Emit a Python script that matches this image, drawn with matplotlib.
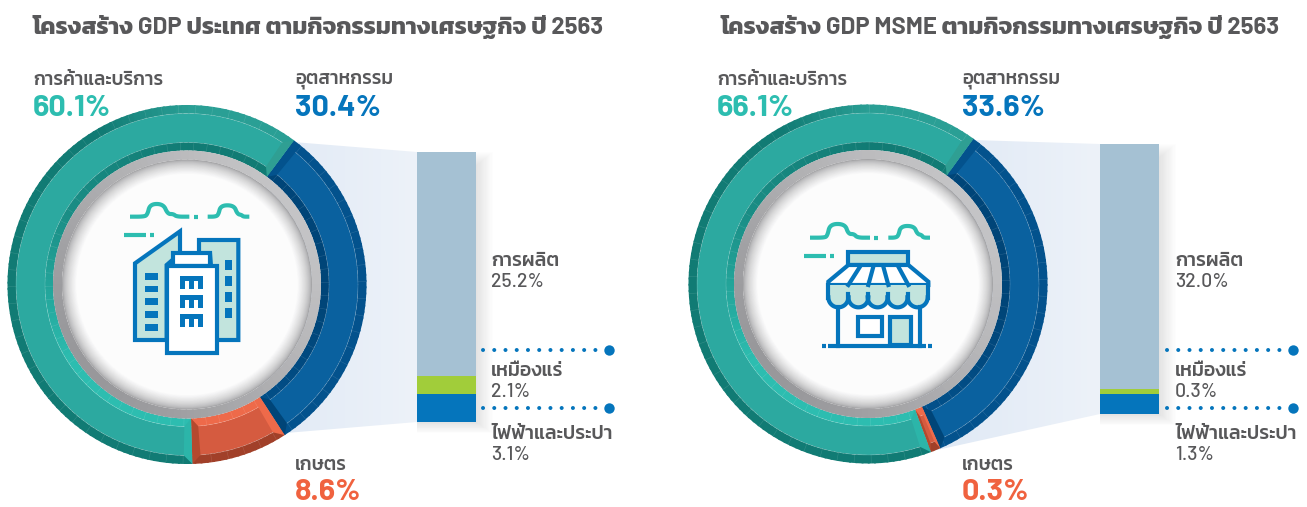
import numpy as np
import matplotlib
matplotlib.use("Agg")
import matplotlib.pyplot as plt
from matplotlib.colors import to_rgb
from matplotlib.patches import Circle, Polygon, Rectangle, Wedge

plt.rcParams["font.family"] = ["Barlow", "Kanit", "DejaVu Sans"]

W, H = 1307, 507

SECTORS = ["อุตสาหกรรม", "เกษตร", "การค้าและบริการ"]
SUBSECTORS = ["การผลิต", "เหมืองแร่", "ไฟฟ้าและประปา"]

country_title = "โครงสร้าง GDP ประเทศ ตามกิจกรรมทางเศรษฐกิจ ปี 2563"
country_sectors = [30.4, 8.6, 60.1]
country_sub = [25.2, 2.1, 3.1]

msme_title = "โครงสร้าง GDP MSME ตามกิจกรรมทางเศรษฐกิจ ปี 2563"
msme_sectors = [33.6, 0.3, 66.1]
msme_sub = [32.0, 0.3, 1.3]
# the original does not draw the small MSME parts to scale, these are the
# shares as they appear in the picture
msme_sectors_drawn = [33.6, 0.9, 66.1]
msme_sub_drawn = [30.5, 0.6, 2.5]

TEAL = "#2dbdb0"
BLUE = "#0575bc"
ORANGE = "#f0623f"
GREY = "#58585a"
ICON_FILL = "#c2e4dd"
SUB_COLORS = ["#a5c1d3", "#a1cd3a", "#0575bc"]

# main band, outer rim, start cap, end cap per sector
BAND = ["#0a619f", "#d55b40", "#2ca9a0"]
RIM = ["#03528d", "#a14029", "#117b74"]
CAP_START = ["#03528d", "#ee6a4a", "#2cb5a9"]
CAP_END = ["#004578", "#b5492e", "#2f9f93"]

R = [179.5, 171, 142, 134, 125]


def mix(c0, c1, t):
    return tuple(np.array(to_rgb(c0)) * (1 - t) + np.array(to_rgb(c1)) * t)


def polar(c, clock, r):
    a = np.radians(clock)
    return c[0] + r * np.sin(a), c[1] - r * np.cos(a)


def arc(ax, c, a0, a1, r, width, color, z=3):
    # y axis points down, so wedge angles run clockwise on screen
    ax.add_patch(Wedge(c, r, a0 - 90, a1 - 90, width=width, fc=color, ec="none", zorder=z))


def teal_inner(a):
    a = a % 360
    if a < 90:
        return "#117b74"
    if a < 235:
        return TEAL
    if a < 300:
        return mix(TEAL, "#1a8d85", (a - 235) / 65)
    return mix("#1a8d85", "#117b74", (a - 300) / 60)


def teal_outer(a):
    a = a % 360
    if a < 90:
        return "#2a9f95"
    if a < 330:
        return "#117b74"
    return mix("#117b74", "#2a9f95", (a - 330) / 30)


def donut(ax, c, shares, start):
    bounds = start + np.cumsum([0] + list(shares)) / np.sum(shares) * 360
    # main band from the shares
    ax.pie(shares, radius=R[1], center=c, colors=BAND, startangle=start - 90,
           wedgeprops=dict(width=R[1] - R[2], lw=0, zorder=3))
    for i in range(3):
        a0, a1 = bounds[i], bounds[i + 1]
        # short steps that overlap a little, so no seams show
        for a in np.arange(a0, a1, 2.0):
            e = min(a + 2.6, a1)
            if i == 2:
                arc(ax, c, a, e, R[0], R[0] - R[1], teal_outer(a))
                arc(ax, c, a, e, R[2], R[2] - R[3], teal_inner(a))
            elif i == 0:
                arc(ax, c, a, e, R[0], R[0] - R[1], RIM[0])
                arc(ax, c, a, e, R[2], R[2] - R[3], mix("#004578", "#03528d", max(0, (a - 100) / 60)))
            else:
                arc(ax, c, a, e, R[0], R[0] - R[1], RIM[1])
                arc(ax, c, a, e, R[2], R[2] - R[3], "#ee6a4a")
        # facet lines on the rims
        for a in np.arange(a0 + 3, a1 - 1, 5.5):
            for r0, r1 in [(R[1], R[0]), (R[3], R[2])]:
                p, q = polar(c, a, r0), polar(c, a, r1)
                ax.plot([p[0], q[0]], [p[1], q[1]], color="white", lw=0.4, alpha=0.14, zorder=4)
        # bevelled ends
        d = min(2.8, (a1 - a0) * 0.28)
        pts = [polar(c, a0, R[0]), polar(c, a0 + d, R[1]), polar(c, a0 + d, R[2]), polar(c, a0, R[3])]
        ax.add_patch(Polygon(pts, fc=CAP_START[i], ec="none", zorder=5))
        pts = [polar(c, a1, R[0]), polar(c, a1 - d, R[1]), polar(c, a1 - d, R[2]), polar(c, a1, R[3])]
        ax.add_patch(Polygon(pts, fc=CAP_END[i], ec="none", zorder=5))
    # thin light seams
    th = np.linspace(0, 2 * np.pi, 300)
    for r in (R[1], R[2]):
        ax.plot(c[0] + r * np.cos(th), c[1] + r * np.sin(th), color="white", lw=0.4, alpha=0.25, zorder=4)
    # grey ring, lighter top right, darker lower left
    for a in np.arange(0, 360, 3.0):
        t = (1 + np.cos(np.radians(a - 50))) / 2
        arc(ax, c, a, a + 3.6, R[3], R[3] - R[4], mix("#98989b", "#c4c4c6", t))
    # soft shadow inside the ring
    for r in np.arange(R[4], R[4] - 15, -0.75):
        t = ((R[4] - r) / 15) ** 0.6
        ax.add_patch(Circle(c, r, fc=mix("#a2a2a4", "white", t), ec="none", zorder=6))


def funnel(ax, pts):
    grad = np.linspace(0, 1, 256)[None, :, None] * (np.array(to_rgb("#edf2f9")) - np.array(to_rgb("#dbe6f4")))
    grad = grad + np.array(to_rgb("#dbe6f4"))
    xs = [p[0] for p in pts]
    ys = [p[1] for p in pts]
    im = ax.imshow(grad, extent=(min(xs), max(xs), max(ys), min(ys)), aspect="auto", zorder=1)
    im.set_clip_path(Polygon(pts, transform=ax.transData))


def stacked(fig, ax, left, top, width, height, values):
    # soft shadow, it fades out towards the top right corner
    for k in range(1, 15):
        y0 = top + (14 - k) * 1.0
        ax.add_patch(Rectangle((left, y0), width + k * 1.2, top + height + k * 0.8 - y0,
                               fc="black", ec="none", alpha=0.008, zorder=2))
    bx = fig.add_axes([left / W, 1 - (top + height) / H, width / W, height / H], zorder=5)
    bx.patch.set_alpha(0)
    bottom = 0
    for v, col in zip(values, SUB_COLORS):
        bx.bar(0, v, bottom=bottom, width=1, color=col)
        bottom += v
    bx.set_xlim(-0.5, 0.5)
    bx.set_ylim(sum(values), 0)
    bx.axis("off")


def labels(ax, xs, y_top, y_low, title, title_x, sectors, colors_big):
    ax.text(title_x, 27, title, fontsize=17.2, fontweight="bold", color=GREY, va="center")
    for i, x in zip([2, 0], xs):
        ax.text(x, 80, SECTORS[i], fontsize=13.6, fontweight="medium", color=GREY, va="center")
        ax.text(x, 109, f"{sectors[i]}%", fontsize=22, fontweight="bold", color=colors_big[i], va="center")
    ax.text(xs[1], y_top, SECTORS[1], fontsize=13.6, fontweight="medium", color=GREY, va="center")
    ax.text(xs[1], y_low, f"{sectors[1]}%", fontsize=22, fontweight="bold", color=colors_big[1], va="center")


def sub_labels(ax, x, values):
    for name, v, y in zip(SUBSECTORS, values, [261, 371, 434]):
        ax.text(x, y, name, fontsize=14, fontweight="medium", color=GREY, va="center")
        ax.text(x, y + 21, f"{v}%", fontsize=14, fontweight="medium", color=GREY, va="center")


def dotted(ax, x0, x1, y):
    ax.plot([x0, x1 - 12], [y, y], color=BLUE, lw=2.9, ls=(0, (0.01, 2.78)), dash_capstyle="round", zorder=4)
    ax.scatter([x1], [y], s=56, color=BLUE, lw=0, zorder=4)


def smooth(pts, n=3):
    # corner cutting, the ends stay where they are
    pts = np.array(pts, dtype=float)
    for _ in range(n):
        q = 0.75 * pts[:-1] + 0.25 * pts[1:]
        r = 0.25 * pts[:-1] + 0.75 * pts[1:]
        mid = np.empty((2 * len(q), 2))
        mid[0::2], mid[1::2] = q, r
        pts = np.vstack([pts[0], mid, pts[-1]])
    return pts


def sky(ax, P, lines, lw=3):
    for seg in lines:
        pts = np.array([P(*p) for p in seg])
        if len(pts) > 2:
            pts = smooth(pts)
        ax.plot(pts[:, 0], pts[:, 1], color=TEAL, lw=lw, solid_capstyle="butt",
                solid_joinstyle="round", zorder=8)


def icon_buildings(ax):
    P = lambda x, y: (x / 3, 100 + y / 3)
    sky(ax, P, [
        [(390, 350), (430, 350), (442, 345), (450, 312), (490, 312), (503, 342), (520, 342), (530, 350), (568, 350)],
        [(582, 350), (595, 350)],
        [(623, 350), (645, 350), (655, 345), (662, 316), (702, 316), (712, 342), (725, 345), (730, 350), (748, 350)],
        [(372, 404), (438, 404)], [(450, 404), (462, 404)],
    ])
    kw = dict(ec=BLUE, lw=3, joinstyle="miter", zorder=8)
    ax.add_patch(Polygon([P(405, 490), P(540, 394), P(540, 460), P(500, 495), P(500, 720), P(405, 720)], fc=ICON_FILL, **kw))
    ax.add_patch(Polygon([P(597, 420), P(715, 420), P(715, 720), P(650, 720), P(630, 460), P(597, 460)], fc=ICON_FILL, **kw))
    ax.add_patch(Polygon([P(520, 460), P(630, 460), P(630, 498), P(520, 498)], fc="white", **kw))
    ax.add_patch(Polygon([P(500, 498), P(650, 498), P(650, 760), P(500, 760)], fc="white", **kw))
    fills = []
    for y in (520, 557, 595, 633, 672):
        fills.append([(435, y), (475, y), (475, y + 20), (435, y + 20)])
    for y in (480, 528, 576, 624):
        fills.append([(675, y), (697, y), (697, y + 30), (675, y + 30)])
    for y in (528, 586, 643):
        fills.append([(540, y), (608, y), (608, y + 38), (594, y + 38), (594, y + 15), (582, y + 15), (582, y + 38),
                      (567, y + 38), (567, y + 15), (555, y + 15), (555, y + 38), (540, y + 38)])
    for f in fills:
        ax.add_patch(Polygon([P(*p) for p in f], fc=BLUE, ec="none", zorder=9))


def icon_shop(ax):
    P = lambda x, y: (780 + x / 3, 190 + y / 3)
    sky(ax, P, [
        [(90, 143), (132, 143), (142, 138), (150, 102), (195, 102), (205, 132), (222, 132), (232, 143), (270, 143)],
        [(282, 143), (295, 143)],
        [(325, 143), (345, 143), (355, 138), (362, 108), (402, 108), (412, 132), (425, 135), (430, 143), (450, 143)],
        [(72, 197), (138, 197)], [(150, 197), (162, 197)],
    ])
    kw = dict(ec=BLUE, lw=3, joinstyle="miter", zorder=8)
    ax.add_patch(Polygon([P(205, 185), P(385, 185), P(385, 225), P(205, 225)], fc=ICON_FILL, **kw))
    ax.add_patch(Polygon([P(205, 225), P(385, 225), P(445, 275), P(445, 285), P(145, 285), P(145, 275)], fc="white", **kw))
    for x0, x1 in [(240, 205), (280, 265), (310, 325), (355, 385)]:
        ax.plot(*zip(P(x0, 230), P(x1, 285)), color=BLUE, lw=3, zorder=9)
    # valance: one filled strip with five scallops under it
    ax.add_patch(Polygon([P(145, 285), P(445, 285), P(445, 325), P(145, 325)], fc=ICON_FILL, ec="none", zorder=8))
    th = np.linspace(0, np.pi, 30)
    for x in (175, 235, 293, 353, 413):
        xs = x + 30 * np.cos(th)
        ys = 322 + 30 * np.sin(th)
        pts = [P(a, b) for a, b in zip(xs, ys)]
        ax.add_patch(Polygon(pts, fc=ICON_FILL, ec="none", zorder=8))
        ax.plot(*zip(*pts), color=BLUE, lw=3, zorder=9)
    for x in (205, 264, 323, 383):
        ax.plot(*zip(P(x, 312), P(x, 325)), color=BLUE, lw=3, zorder=9)
    for x in (145, 445):
        ax.plot(*zip(P(x, 285), P(x, 325)), color=BLUE, lw=3, zorder=9)
    for x in (173, 420):
        ax.plot(*zip(P(x, 350), P(x, 467)), color=BLUE, lw=3, zorder=8)
    ax.plot(*zip(P(145, 467), P(437, 467)), color=BLUE, lw=3, solid_capstyle="butt", zorder=8)
    for x0, x1 in [(127, 138), (445, 456)]:
        ax.plot(*zip(P(x0, 467), P(x1, 467)), color=BLUE, lw=3, solid_capstyle="butt", zorder=8)
    ax.add_patch(Polygon([P(233, 380), P(305, 380), P(305, 437), P(233, 437)], fc="white", **kw))
    ax.add_patch(Polygon([P(330, 382), P(392, 382), P(392, 465), P(330, 465)], fc=ICON_FILL, **kw))


fig = plt.figure(figsize=(W / 100, H / 100), dpi=100, facecolor="white")
ax = fig.add_axes([0, 0, 1, 1])
big = [BLUE, ORANGE, TEAL]

# left panel
c1 = (187, 284.5)
funnel(ax, [(293, 142), (417, 152), (417, 422), (286, 433), (200, 290)])
donut(ax, c1, country_sectors, 36.6)
stacked(fig, ax, 417, 152, 59, 270, country_sub)
labels(ax, [33, 295], 465, 493, country_title, 33, country_sectors, big)
sub_labels(ax, 491, country_sub)
dotted(ax, 483, 609, 350)
dotted(ax, 483, 609, 408)
icon_buildings(ax)

# right panel
c2 = (868, 284)
funnel(ax, [(973, 140), (1100, 144), (1100, 414), (937, 450), (880, 290)])
donut(ax, c2, msme_sectors_drawn, 36.0)
stacked(fig, ax, 1100, 144, 59, 270, msme_sub_drawn)
labels(ax, [717, 962], 465, 493, msme_title, 720, msme_sectors, big)
sub_labels(ax, 1175, msme_sub)
dotted(ax, 1167, 1293, 350)
dotted(ax, 1167, 1293, 408)
icon_shop(ax)

ax.set_aspect("auto")
ax.set_xlim(0, W)
ax.set_ylim(H, 0)
ax.axis("off")
fig.savefig("out.png", dpi=100, facecolor="white")
